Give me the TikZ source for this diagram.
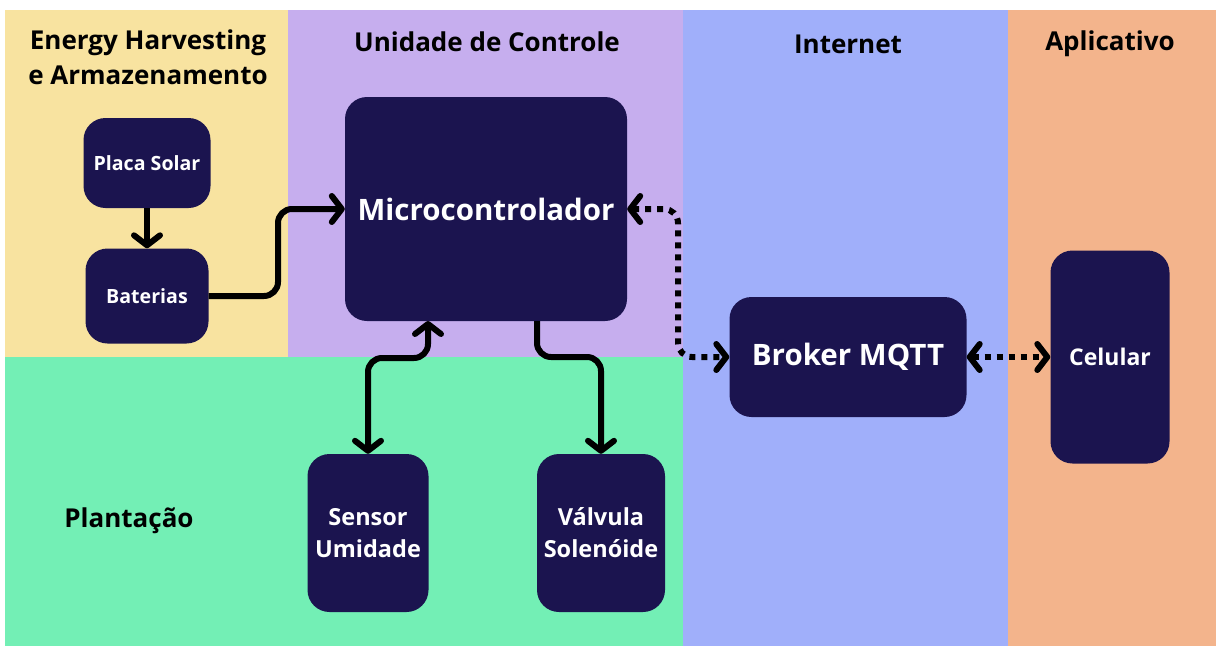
\documentclass[tikz,border=0pt]{standalone}
\usepackage{fontspec}
\setmainfont{Open Sans}
\usetikzlibrary{arrows.meta}
\definecolor{zoneA}{HTML}{F8E3A0}
\definecolor{zoneB}{HTML}{C6AEEE}
\definecolor{zoneC}{HTML}{73EFB5}
\definecolor{zoneD}{HTML}{A0AFFA}
\definecolor{zoneE}{HTML}{F3B48C}
\definecolor{navy}{HTML}{1B144F}
\tikzset{
  box/.style={fill=navy, rounded corners=22pt, text=white, font=\bfseries\fontsize{19.6}{24}\selectfont,
    align=center, inner sep=0pt},
  zonetitle/.style={font=\bfseries\fontsize{26}{35}\selectfont, align=center, text=black},
  tip/.tip={Straight Barb[length=10pt, width=26pt, round]},
  conn/.style={line width=6pt, line join=round, rounded corners=14pt},
  link/.style={line width=6pt, rounded corners=14pt, dash pattern=on 6pt off 6pt, line cap=butt},
}
\begin{document}
\begin{tikzpicture}[x=1pt, y=-1pt]
\useasboundingbox (0,0) rectangle (1216,646);
\fill[white] (0,0) rectangle (1216,646);
% zones
\fill[zoneA] (5,10) rectangle (288,357);
\fill[zoneB] (288,10) rectangle (683,357);
\fill[zoneC] (5,357) rectangle (683,646);
\fill[zoneD] (683,10) rectangle (1008,646);
\fill[zoneE] (1008,10) rectangle (1216,646);
% zone titles
\node[zonetitle] (tEnergy) at (148,57) {Energy Harvesting\\e Armazenamento};
\node[zonetitle] (tCtrl) at (487,42) {Unidade de Controle};
\node[zonetitle] (tNet) at (848,44) {Internet};
\node[zonetitle] (tApp) at (1110,44) {Aplicativo};
\node[zonetitle] (tPlant) at (129,521) {Plantação};
% blocks
\node[box, minimum width=127pt, minimum height=90pt] (sol) at (147,163) {Placa Solar};
\node[box, minimum width=123pt, minimum height=95pt] (bat) at (147,296) {Baterias};
\node[box, minimum width=282pt, minimum height=224pt] (mc) at (486,209) {};
\node[font=\bfseries\fontsize{29.5}{34}\selectfont, text=white] (mcl) at (486,209) {Microcontrolador};
\node[box, minimum width=237pt, minimum height=120pt, font=\bfseries\fontsize{29.5}{34}\selectfont] (brk) at (848,357) {Broker MQTT};
\node[box, minimum width=119pt, minimum height=213pt, font=\bfseries\fontsize{23}{28}\selectfont] (cel) at (1110,357) {Celular};
\node[box, minimum width=121pt, minimum height=158pt, font=\bfseries\fontsize{23.5}{32}\selectfont] (sen) at (368,533) {Sensor\\Umidade};
\node[box, minimum width=128pt, minimum height=158pt, font=\bfseries\fontsize{23.5}{32}\selectfont] (val) at (601,533) {Válvula\\Solenóide};
% bend points
\coordinate (b1) at (278,296);
\coordinate (b2) at (278,209);
\coordinate (s1) at (368,358);
\coordinate (s2) at (428,358);
\coordinate (s3) at (428,321);
\coordinate (v1) at (537,321);
\coordinate (v2) at (537,357);
\coordinate (v3) at (601,357);
\coordinate (d1) at (678,209);
\coordinate (d2) at (678,357);
% connectors
\draw[conn, -tip] (sol.south) -- (bat.north);
\draw[conn, -tip] (bat.east) -- (b1) -- (b2) -- (mc.west);
\draw[conn, tip-tip] (sen.north) -- (s1) -- (s2) -- (s3);
\draw[conn, -tip] (v1) -- (v2) -- (v3) -- (val.north);
\draw[link, tip-tip] (mc.east) -- (d1) -- (d2) -- (brk.west);
\draw[link, tip-tip] (brk.east) -- (cel.west);
\end{tikzpicture}
\end{document}
